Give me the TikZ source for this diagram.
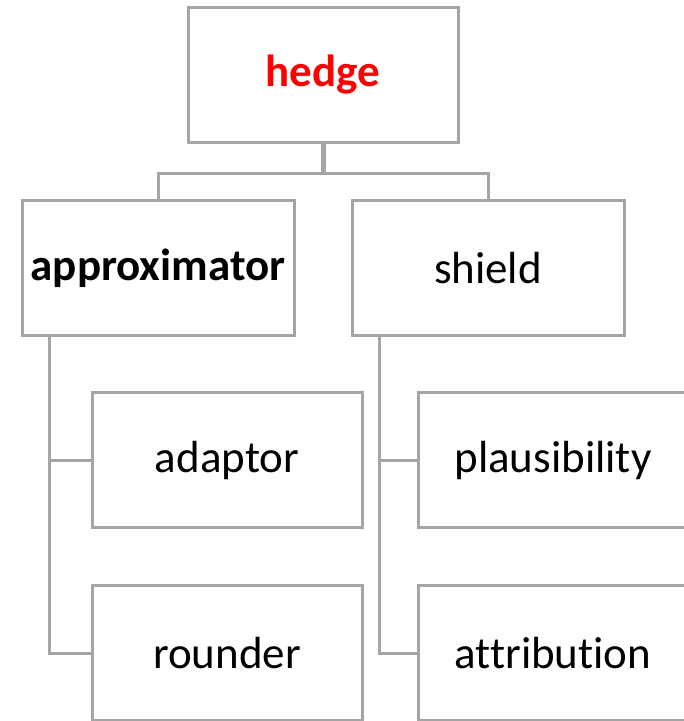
\documentclass[tikz,border=0pt]{standalone}
\usepackage{fontspec}
\setmainfont{Carlito}[Ligatures=CommonOff]
\definecolor{linegray}{RGB}{165,165,165}
\definecolor{hedgered}{RGB}{255,0,0}
\begin{document}
\begin{tikzpicture}[x=1pt,y=-1pt,
  box/.style={draw=linegray,line width=3pt,fill=white,minimum width=270pt,minimum height=135pt,inner sep=0pt,
    font=\fontsize{45}{50}\selectfont,text=black},
  conn/.style={draw=linegray,line width=3pt}]
\clip (0,0) rectangle (684,721);
\fill[white] (0,0) rectangle (684,721);
\node[box,text=hedgered,font=\fontsize{45}{50}\selectfont\bfseries] (hedge) at (323,75) {hedge};
\node[box,minimum width=272pt,font=\fontsize{45}{50}\selectfont\bfseries] (approx) at (158,268) {approximator};
\node[box,minimum width=272pt] (shield) at (488,268) {shield};
\node[box] (adaptor) at (227,460) {adaptor};
\node[box] (rounder) at (227,653) {rounder};
\node[box] (plaus) at (553,460) {plausibility};
\node[box] (attr) at (553,653) {attribution};
\draw[conn,line width=5pt] (hedge.south) -- ++(0,29) coordinate (hj);
\draw[conn] (hj) -| (approx.north);
\draw[conn] (hj) -| (shield.north);
\draw[conn] ([xshift=29pt]approx.south west) coordinate (av) |- (adaptor.west);
\draw[conn] (av) |- (rounder.west);
\draw[conn] ([xshift=29pt]shield.south west) coordinate (sv) |- (plaus.west);
\draw[conn] (sv) |- (attr.west);
\end{tikzpicture}
\end{document}
